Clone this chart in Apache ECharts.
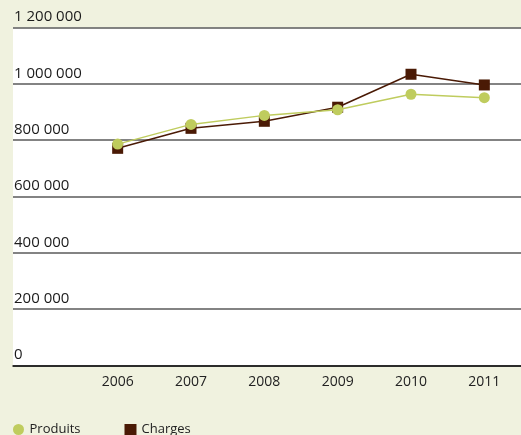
<!DOCTYPE html>
<html><head><meta charset="utf-8">
<script src="https://cdn.jsdelivr.net/npm/echarts@6/dist/echarts.min.js"></script>
<style>html,body{margin:0;padding:0;background:#f0f2df;}#c{width:521px;height:435px;}</style>
</head><body><div id="c"></div>
<script>
const categories = ['2006','2007','2008','2009','2010','2011'];
const produits = [786000, 856000, 888000, 908000, 963000, 951000];
const charges = [771000, 842000, 867000, 917000, 1034000, 996000];
const yTicks = [0, 200000, 400000, 600000, 800000, 1000000, 1200000];

const chart = echarts.init(document.getElementById('c'));
const fmt = v => String(v).replace(/\B(?=(\d{3})+(?!\d))/g, ' ');
const font = '"Open Sans", "Noto Sans", sans-serif';
chart.setOption({
  backgroundColor: '#f0f2df',
  animation: false,
  grid: [
    {left: 81, right: 0, top: 27.5, bottom: 69.5, show: false},
    {left: 13, right: 0, top: 27.5, bottom: 69.5, show: true, backgroundColor: '#ffffff', borderWidth: 0, z: 0}
  ],
  xAxis: [
    {type: 'category', gridIndex: 0, data: categories, boundaryGap: true,
     axisLine: {show: false}, axisTick: {show: false},
     axisLabel: {color: '#222', fontSize: 14, fontFamily: font, margin: 10}},
    {type: 'value', gridIndex: 1, min: 0, max: 1, show: true,
     axisLine: {show: true, lineStyle: {color: '#111', width: 1.5}},
     axisTick: {show: false}, axisLabel: {show: false}, splitLine: {show: false}}
  ],
  yAxis: [
    {type: 'value', gridIndex: 0, min: 0, max: 1200000, interval: 200000, show: false},
    {type: 'value', gridIndex: 1, min: yTicks[0], max: yTicks[yTicks.length-1], interval: 200000,
     axisLine: {show: false}, axisTick: {show: false},
     splitLine: {show: true, lineStyle: {color: '#5a5a5a', width: 1.5}},
     axisLabel: {inside: true, verticalAlign: 'bottom', margin: 1, padding: [0,0,3,0],
       color: '#1a1a1a', fontSize: 15, fontFamily: font, formatter: fmt}}
  ],
  legend: {
    left: 8, bottom: -6, itemGap: 44, itemWidth: 12, itemHeight: 11,
    textStyle: {color: '#222', fontSize: 13, fontFamily: font},
    data: [
      {name: 'Produits', icon: 'circle', itemStyle: {color: '#bfcc5e'}},
      {name: 'Charges', icon: 'rect', itemStyle: {color: '#4a1a05'}}
    ]
  },
  series: [
    {name: 'Charges', type: 'line', xAxisIndex: 0, yAxisIndex: 0, data: charges,
     symbol: 'rect', symbolSize: 11, itemStyle: {color: '#4a1a05'},
     lineStyle: {color: '#4a1a05', width: 1.5}, z: 3},
    {name: 'Produits', type: 'line', xAxisIndex: 0, yAxisIndex: 0, data: produits,
     symbol: 'circle', symbolSize: 11, itemStyle: {color: '#bfcc5e'},
     lineStyle: {color: '#bfcc5e', width: 1.5}, z: 4}
  ]
});
</script></body></html>
